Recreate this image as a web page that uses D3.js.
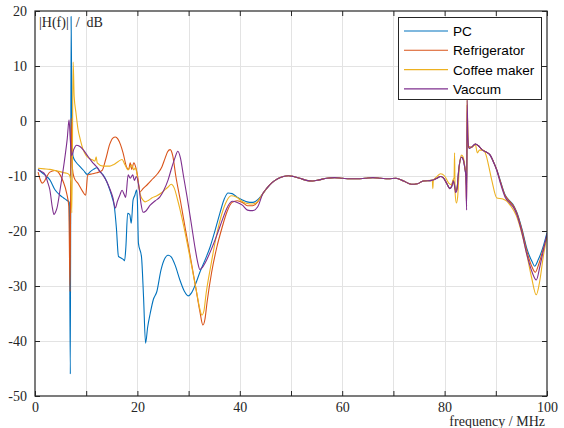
<!DOCTYPE html>
<html>
<head>
<meta charset="utf-8">
<script src="https://cdn.jsdelivr.net/npm/d3@7/dist/d3.min.js"></script>
<style>
  html, body { margin: 0; padding: 0; background: #fff; }
  svg { display: block; }
  .tick text { font-family: 'Liberation Serif', 'Times New Roman', serif; font-size: 14px; }
</style>
</head>
<body>
<svg id="chart" width="564" height="428"></svg>
<script>
// Measured transfer function |H(f)| in dB for four household loads, [MHz, dB]

const sharedMidBand = [
  [44.5, -13.2], [45.3, -12.2], [46.3, -11.2], [47.4, -10.5], [48.5, -10.1],
  [49.5, -9.95], [50.5, -10.1], [51.7, -10.4], [53, -10.8], [54.2, -10.9],
  [55.5, -10.7], [57, -10.4], [58.5, -10.3], [60, -10.4], [61.5, -10.5],
  [63, -10.5], [64.5, -10.4], [66, -10.3], [67.5, -10.4], [69, -10.5],
  [70.5, -10.4], [72, -10.9], [73.5, -11.5], [74.7, -11.4], [75.8, -10.9],
  [77.5, -10.8]
];

const pcHead = [
  [0.6, -8.8], [1.5, -9.5], [2.3, -10.1], [2.9, -10.7], [3.9, -12.5], [4.9, -13.5],
  [5.6, -14.0], [6.2, -14.4], [6.7, -14.8], [6.9, -46], [7.05, 19], [7.25, -3],
  [7.45, -6.5], [8.1, -7.6], [8.8, -8.3], [9.5, -9.0], [10.2, -9.7], [10.8, -9.2],
  [11.4, -8.8], [12.1, -8.5], [12.7, -9.2], [13.3, -9.8], [14, -11], [14.6, -12.5],
  [15.1, -14], [15.5, -15.6], [15.9, -19.5], [16.3, -24.6], [16.8, -24.9],
  [17.3, -25.2], [17.5, -25.4], [17.75, -22.9], [18.1, -16.8], [18.5, -17.0],
  [18.8, -18.6], [19.15, -14.4], [19.5, -13.5], [19.85, -12.5], [20.0, -14.5],
  [20.2, -22.2], [20.8, -24.7], [21.2, -32], [21.6, -40.4], [22.0, -37.5],
  [22.5, -35], [23.1, -32.5], [23.8, -31], [24.6, -27.1], [25.4, -24.9],
  [26, -24.4], [26.6, -24.7], [27.4, -26.3], [28.3, -28.9], [29.2, -31],
  [29.9, -31.8], [30.6, -31.2], [31.3, -29.8], [32.2, -27.5], [33.2, -25.3],
  [34.2, -22.9], [35.2, -19.8], [36.1, -16.8], [37, -14.1], [37.7, -13.1],
  [38.5, -13.2], [39.4, -13.8], [40.4, -14.3], [41.4, -14.7], [42.5, -14.8],
  [43.5, -14.3]
];
const pcTail = [
  [78.5, -10.4], [79.2, -10.1], [79.8, -10.4], [80.5, -11.5], [81.0, -12.2],
  [81.4, -11.8], [81.7, -10.8], [81.95, -11.6], [82.15, -12.6], [82.4, -12.3],
  [82.8, -8.5], [83.25, -6.6], [83.55, -6.8], [83.95, -8.5], [84.15, -10],
  [84.3, -12], [84.4, -1], [84.6, -4.8], [85.2, -4.8], [86, -4.2], [86.6, -4.5],
  [87.3, -5.2], [88, -5.6], [88.9, -6.2], [89.5, -7.3], [90.2, -8.9],
  [90.8, -10.6], [91.8, -13.4], [92.8, -14.6], [93.5, -15.4], [94.1, -16.6],
  [95.1, -19.6], [96.1, -23.3], [97.1, -25.6], [97.6, -26.4], [98.3, -25.2],
  [99.2, -23], [100, -20.3]
];

const fridgeHead = [
  [0.6, -9.3], [1.0, -10.6], [1.4, -11.3], [1.8, -11.0], [2.3, -10.1], [2.9, -9.3],
  [3.9, -9.0], [4.9, -9.8], [5.5, -11], [6.2, -13.2], [6.6, -15.5], [6.85, -31],
  [7.05, 0.5], [7.3, -8.5], [7.6, -10.2], [8.5, -11.5], [9.3, -12.8], [9.9, -13.5],
  [10.3, -9.8], [11.2, -9.6], [12.1, -9.4], [13.1, -9.0], [13.8, -7.0],
  [14.6, -4.2], [15.2, -3.1], [15.7, -2.9], [16.2, -3.3], [16.7, -4.3],
  [17.2, -5.8], [17.9, -8.4], [18.3, -8.8], [18.6, -7.6], [18.9, -8.8],
  [19.3, -7.6], [19.7, -8.5], [20.0, -9.8], [20.5, -12.9], [21.1, -12.3],
  [22, -11.5], [23, -10.5], [24, -9.5], [24.8, -8.3], [25.4, -6.8], [25.9, -5.6],
  [26.4, -5.2], [26.9, -6.3], [27.5, -10], [28.4, -14.5], [29.4, -19.8],
  [30.4, -25], [31.4, -30.3], [32.2, -34.6], [32.8, -37.1], [33.2, -36],
  [33.6, -33], [34.5, -27.5], [35.5, -23], [36.5, -19.5], [37.5, -16.5],
  [38.5, -14.8], [39.5, -14.5], [40.5, -14.8], [41.5, -15.4], [42.5, -15.4],
  [43.5, -14.7]
];
const fridgeTail = [
  [78.5, -10.4], [79.2, -10.1], [79.8, -10.4], [80.5, -11.5], [81.0, -12.3],
  [81.4, -11.8], [81.7, -10.8], [81.95, -11.7], [82.15, -12.7], [82.4, -12.4],
  [82.8, -8.5], [83.25, -6.6], [83.55, -6.8], [83.95, -8.5], [84.15, -10],
  [84.3, -15.5], [84.4, 3.0], [84.6, -4.6], [85.2, -4.8], [86, -4.2], [86.6, -4.5],
  [87.3, -5.2], [88, -5.6], [88.9, -6.2], [89.5, -7.3], [90.2, -8.9],
  [90.8, -10.7], [91.8, -13.5], [92.8, -14.7], [93.5, -15.5], [94.1, -16.7],
  [95.1, -19.8], [96.1, -23.8], [97.1, -26.6], [97.7, -27.5], [98.4, -26],
  [99.2, -23.5], [100, -21]
];

const coffeeHead = [
  [0.6, -8.6], [1.8, -8.7], [2.9, -8.8], [3.9, -9.0], [4.9, -9.2], [5.6, -9.4],
  [6.2, -9.5], [6.7, -9.8], [7.0, -11], [7.2, -16.7], [7.45, 10.7], [7.65, 4.5],
  [8.0, 1.5], [8.4, -1.5], [8.8, -3.2], [9.4, -5.2], [10.0, -6.3], [10.6, -6.8],
  [11.3, -7.1], [11.7, -7.3], [11.95, -6.5], [12.15, -7.6], [13.3, -8.2],
  [14.6, -8.2], [15.4, -7.9], [16.2, -7.4], [17.0, -7.0], [17.6, -8.0],
  [18.2, -8.9], [18.6, -8.3], [18.9, -8.0], [19.3, -8.9], [19.6, -8.5],
  [20.1, -10.7], [20.6, -13.5], [21.1, -14.4], [21.5, -14.7], [22.2, -14.4],
  [22.8, -14.0], [23.8, -13.6], [24.8, -13.0], [25.5, -12.4], [26, -12],
  [26.6, -11.5], [27.2, -12.2], [27.9, -14.5], [28.7, -17.6], [29.6, -21.6],
  [30.6, -26.4], [31.6, -31.3], [32.2, -34.2], [32.6, -35.3], [33.0, -34.5],
  [33.4, -31.5], [34.3, -26.5], [35.3, -21.5], [36.3, -17.5], [37.3, -14.8],
  [38.3, -13.6], [39.3, -13.8], [40.4, -14.6], [41.4, -15.0], [42.5, -15.1],
  [43.5, -14.6]
];
const coffeeTail = [
  [77.6, -10.8], [77.7, -12.3], [77.8, -10.8], [78.5, -10.1], [79.2, -9.6],
  [80, -10], [80.8, -11.3], [81.3, -11.6], [81.7, -10.6], [81.85, -10.3],
  [81.95, -5.8], [82.05, -13], [82.3, -14.9], [82.55, -13.8], [82.9, -8],
  [83.3, -6.2], [83.6, -6.5], [84.0, -8.5], [84.2, -10], [84.3, -12],
  [84.38, 4.3], [84.5, -1], [84.65, -4.8], [85.2, -4.8], [86, -4.3], [86.4, -5.8],
  [86.8, -5.3], [87.5, -5.3], [88.1, -6.2], [88.5, -7.7], [89.2, -10.7],
  [90.2, -14], [91.4, -14.2], [92.2, -14.6], [92.8, -15.3], [94, -17.2],
  [95.1, -20.5], [96.1, -24.5], [97, -28.5], [97.9, -31.6], [98.6, -29],
  [99.3, -24.5], [100, -21]
];

const vacuumHead = [
  [0.6, -8.9], [1.3, -9.2], [2.0, -9.8], [2.5, -11.2], [2.9, -12.5], [3.4, -15.8],
  [3.7, -17.0], [4.0, -16.6], [4.3, -15.8], [4.9, -12.5], [5.4, -9.5], [5.9, -6.2],
  [6.3, -3.2], [6.65, 0.2], [6.9, -3.5], [7.15, -6.3], [7.6, -5.1], [8.1, -4.4],
  [8.7, -4.6], [9.3, -5.1], [10.4, -6.5], [11.3, -7.6], [12.1, -8.4], [12.7, -9.2],
  [13.3, -9.9], [14, -11], [14.6, -12.3], [15.2, -13.9], [15.7, -15.8],
  [16.1, -14.6], [16.6, -13.4], [17.0, -12.6], [17.4, -13.3], [17.7, -13.9],
  [18.2, -9.8], [18.6, -10.4], [19.1, -9.8], [19.4, -10.8], [19.8, -10.1],
  [20.3, -12], [20.7, -15], [21.1, -16.6], [21.6, -16.4], [22.5, -15.3],
  [23.5, -14.5], [24.4, -13.8], [25.2, -12.5], [26, -10.7], [26.7, -8.5],
  [27.3, -6.8], [27.9, -5.5], [28.4, -6.7], [29, -10], [29.7, -13.8],
  [30.5, -18.5], [31.3, -23.3], [31.8, -25.8], [32.2, -27.0], [32.7, -26.6],
  [33.5, -25.3], [34.5, -23.2], [35.5, -20.8], [36.5, -18.2], [37.5, -15.8],
  [38.5, -14.6], [39.5, -14.8], [40.5, -15.3], [41.5, -16.2], [42.5, -16.3],
  [43.5, -15.6]
];
const vacuumTail = [
  [78.5, -10.4], [79.2, -10.1], [79.8, -10.4], [80.5, -11.5], [81.0, -12.3],
  [81.4, -11.9], [81.7, -10.9], [81.95, -11.9], [82.15, -13.0], [82.4, -12.6],
  [82.8, -8.6], [83.25, -6.6], [83.55, -6.8], [83.95, -8.5], [84.15, -10],
  [84.3, -16.2], [84.4, 3.8], [84.55, -3], [84.75, -5], [85.2, -4.8], [86, -4.2],
  [86.6, -4.5], [87.3, -5.2], [88, -5.6], [88.9, -6.2], [89.5, -7.4],
  [90.2, -9.0], [90.8, -11.0], [91.8, -13.8], [92.8, -15.0], [93.5, -15.8],
  [94.1, -17.0], [95.1, -20.3], [96.1, -24.4], [97.1, -27.5], [97.9, -28.9],
  [98.6, -26.5], [99.3, -23.5], [100, -20.5]
];

const seriesNames = ["PC", "Refrigerator", "Coffee maker", "Vaccum"];
const seriesTraces = [
  pcHead.concat(sharedMidBand, pcTail),
  fridgeHead.concat(sharedMidBand, fridgeTail),
  coffeeHead.concat(sharedMidBand, coffeeTail),
  vacuumHead.concat(sharedMidBand, vacuumTail)
];
const seriesColors = ["#0072BD", "#D95319", "#EDB120", "#7E2F8E"];

const xTicks = d3.range(0, 101, 10);
const xTickLabels = [0, 20, 40, 60, 80, 100];
const yTicks = d3.range(-50, 21, 10);

// ---- layout ----
const svg = d3.select("#chart");
const plot = { left: 35, right: 547, top: 11, bottom: 396 };
const x = d3.scaleLinear().domain([0, 100]).range([plot.left, plot.right]);
const y = d3.scaleLinear().domain([-50, 20]).range([plot.bottom, plot.top]);

const axisColor = "#262626";
const serif = "'Liberation Serif', 'Times New Roman', serif";
const sans = "'Liberation Sans', Arial, sans-serif";

// grid
const grid = svg.append("g").attr("stroke", "#e3e3e3").attr("stroke-width", 1);
grid.selectAll("line.v").data(xTicks.filter(d => d > 0 && d < 100)).join("line")
  .attr("x1", d => Math.round(x(d)) + 0.5).attr("x2", d => Math.round(x(d)) + 0.5)
  .attr("y1", plot.top).attr("y2", plot.bottom);
grid.selectAll("line.h").data(yTicks.filter(d => d > -50 && d < 20)).join("line")
  .attr("y1", d => Math.round(y(d)) + 0.5).attr("y2", d => Math.round(y(d)) + 0.5)
  .attr("x1", plot.left).attr("x2", plot.right);

// curves
svg.append("clipPath").attr("id", "plotClip").append("rect")
  .attr("x", plot.left).attr("y", plot.top)
  .attr("width", plot.right - plot.left).attr("height", plot.bottom - plot.top);

const line = d3.line().x(d => x(d[0])).y(d => y(d[1])).curve(d3.curveMonotoneX);
svg.append("g").attr("clip-path", "url(#plotClip)")
  .selectAll("path").data(seriesTraces).join("path")
  .attr("d", line)
  .attr("fill", "none")
  .attr("stroke", (d, i) => seriesColors[i])
  .attr("stroke-width", 1.1)
  .attr("stroke-linejoin", "round");

// axes with inward ticks on all four sides
function styleAxis(g) {
  g.attr("font-family", null).attr("font-size", null);
  g.select(".domain").remove();
  g.selectAll(".tick line").attr("stroke", axisColor);
  g.selectAll(".tick text").attr("fill", axisColor);
}
const fmtX = d => (xTickLabels.includes(d) ? String(d) : "");

svg.append("g").attr("transform", `translate(0,${plot.bottom})`)
  .call(d3.axisBottom(x).tickValues(xTicks).tickFormat(fmtX).tickSize(-5).tickPadding(6))
  .call(styleAxis);
svg.append("g").attr("transform", `translate(0,${plot.top})`)
  .call(d3.axisTop(x).tickValues(xTicks).tickFormat("").tickSize(-5))
  .call(styleAxis);
svg.append("g").attr("transform", `translate(${plot.left},0)`)
  .call(d3.axisLeft(y).tickValues(yTicks).tickFormat(d => String(d)).tickSize(-5).tickPadding(8))
  .call(styleAxis);
svg.append("g").attr("transform", `translate(${plot.right},0)`)
  .call(d3.axisRight(y).tickValues(yTicks).tickFormat("").tickSize(-5))
  .call(styleAxis);

// frame
svg.append("rect")
  .attr("x", plot.left).attr("y", plot.top)
  .attr("width", plot.right - plot.left).attr("height", plot.bottom - plot.top)
  .attr("fill", "none").attr("stroke", axisColor).attr("stroke-width", 1.2);

// axis titles
svg.append("text")
  .attr("x", plot.left + 4).attr("y", 27)
  .attr("font-family", serif).attr("font-size", 14).attr("fill", axisColor)
  .style("white-space", "pre")
  .text("|H(f)|  /  dB");
svg.append("text")
  .attr("x", 545).attr("y", 426).attr("text-anchor", "end")
  .attr("font-family", serif).attr("font-size", 14).attr("fill", axisColor)
  .text("frequency / MHz");

// legend
const legend = svg.append("g");
legend.append("rect")
  .attr("x", 398.5).attr("y", 17.5).attr("width", 143).attr("height", 82)
  .attr("fill", "#fff").attr("stroke", axisColor).attr("stroke-width", 1);
const rows = legend.selectAll("g.row").data(seriesNames).join("g")
  .attr("transform", (d, i) => `translate(0,${31 + i * 19.3})`);
rows.append("line")
  .attr("x1", 404).attr("x2", 448).attr("y1", 0).attr("y2", 0)
  .attr("stroke", (d, i) => seriesColors[i]).attr("stroke-width", 1.1);
rows.append("text")
  .attr("x", 453).attr("y", 0).attr("dy", "0.36em")
  .attr("font-family", sans).attr("font-size", 13.6).attr("fill", "#000")
  .text(d => d);
</script>
</body>
</html>
